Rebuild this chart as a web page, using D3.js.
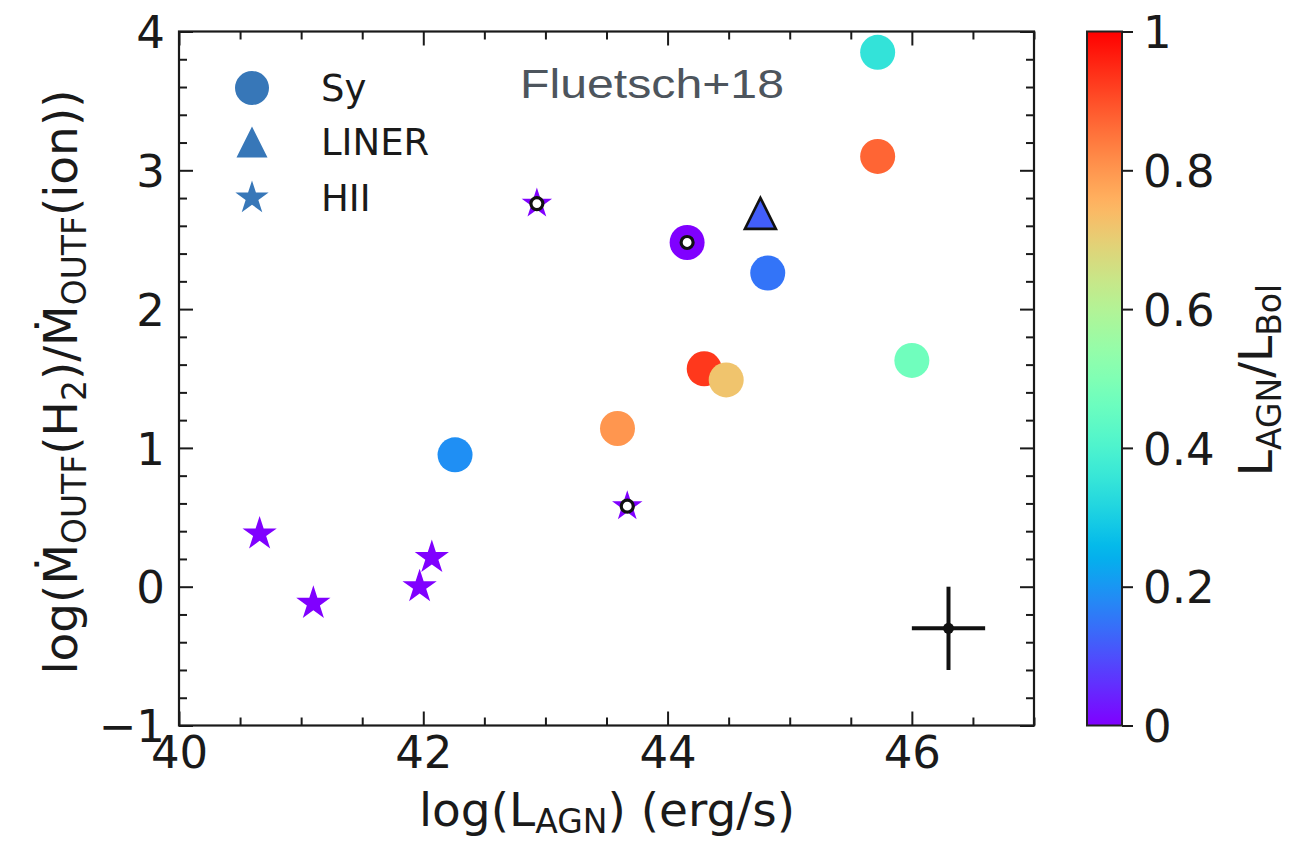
<!DOCTYPE html>
<html>
<head>
<meta charset="utf-8">
<script src="https://cdn.jsdelivr.net/npm/d3@7"></script>
<style>
  html, body { margin: 0; padding: 0; background: #fff; }
  svg { display: block; }
  text { font-family: "DejaVu Sans", sans-serif; fill: #1a1a1a; }
</style>
</head>
<body>
<svg id="chart" width="1299" height="843"></svg>
<script>
// ---------- data ----------
// Sy (circles)
const syX    = [42.26, 43.59, 44.30, 44.48, 44.82, 44.16, 45.72, 45.72, 46.00];
const syY    = [0.95, 1.14, 1.57, 1.49, 2.26, 2.48, 3.85, 3.10, 1.63];
const syFrac = [0.19, 0.80, 0.93, 0.72, 0.15, 0.00, 0.35, 0.87, 0.47];
const syOpen = [0, 0, 0, 0, 0, 1, 0, 0, 0];
// LINER (triangles)
const linerX    = [44.76];
const linerY    = [2.69];
const linerFrac = [0.12];
// HII (stars)
const hiiX    = [40.66, 41.10, 41.97, 42.07, 42.93, 43.67];
const hiiY    = [0.38, -0.12, 0.00, 0.21, 2.76, 0.58];
const hiiFrac = [0, 0, 0, 0, 0, 0];
const hiiOpen = [0, 0, 0, 0, 1, 1];
// typical error bar
const errX = [46.3], errY = [-0.3], errDX = [0.3], errDY = [0.3];
// axes
const xDomain = [40, 47], yDomain = [-1, 4];
const xMajor = [40, 42, 44, 46];
const yMajor = [-1, 0, 1, 2, 3, 4];
const cbTicks = [0, 0.2, 0.4, 0.6, 0.8, 1];
const legendLabels = ["Sy", "LINER", "HII"];
const annotation = "Fluetsch+18";

// ---------- setup ----------
const svg = d3.select("#chart");
const L = 179, R = 1034, T = 31.5, B = 725.5;
const x = d3.scaleLinear().domain(xDomain).range([L, R]);
const y = d3.scaleLinear().domain(yDomain).range([B, T]);

function rainbow(t) {
  const r = Math.min(1, Math.abs(2 * t - 0.5));
  const g = Math.sin(Math.PI * t);
  const b = Math.cos(Math.PI * t / 2);
  return d3.rgb(r * 255, g * 255, b * 255).formatHex();
}
function starPath(r) {
  const ri = r * 0.381966;
  const pts = [];
  for (let i = 0; i < 10; i++) {
    const a = -Math.PI / 2 + i * Math.PI / 5;
    const rr = i % 2 === 0 ? r : ri;
    pts.push([rr * Math.cos(a), rr * Math.sin(a)]);
  }
  return "M" + pts.map(p => p[0].toFixed(2) + "," + p[1].toFixed(2)).join("L") + "Z";
}
function triPath(r) {
  return `M0,${-r}L${r},${r}L${-r},${r}Z`;
}

// ---------- axes (ticks inward on all sides) ----------
const xMinor = d3.range(40, 47.001, 0.5).filter(v => !xMajor.includes(v));
const yMinor = d3.range(-1, 4.001, 0.2).map(v => +v.toFixed(1)).filter(v => !yMajor.includes(v));
const fmt = d => d3.format("d")(d);

const gAx = svg.append("g");
function styleAxis(g) {
  g.select(".domain").remove();
  g.selectAll(".tick line").attr("stroke", "#1a1a1a").attr("stroke-width", 2);
  g.selectAll(".tick text").attr("font-size", 45).attr("fill", "#1a1a1a");
}
gAx.append("g").attr("transform", `translate(0,${B})`)
  .call(d3.axisBottom(x).tickValues(xMajor).tickSize(-14).tickPadding(11).tickFormat(fmt)).call(styleAxis);
gAx.append("g").attr("transform", `translate(0,${B})`)
  .call(d3.axisBottom(x).tickValues(xMinor).tickSize(-8).tickFormat("")).call(styleAxis);
gAx.append("g").attr("transform", `translate(0,${T})`)
  .call(d3.axisTop(x).tickValues(xMajor).tickSize(-14).tickFormat("")).call(styleAxis);
gAx.append("g").attr("transform", `translate(0,${T})`)
  .call(d3.axisTop(x).tickValues(xMinor).tickSize(-8).tickFormat("")).call(styleAxis);
const yl = gAx.append("g").attr("transform", `translate(${L},0)`)
  .call(d3.axisLeft(y).tickValues(yMajor).tickSize(-14).tickPadding(14).tickFormat(fmt)).call(styleAxis);
yl.selectAll(".tick text").attr("dy", "0.36em");
gAx.append("g").attr("transform", `translate(${L},0)`)
  .call(d3.axisLeft(y).tickValues(yMinor).tickSize(-8).tickFormat("")).call(styleAxis);
gAx.append("g").attr("transform", `translate(${R},0)`)
  .call(d3.axisRight(y).tickValues(yMajor).tickSize(-14).tickFormat("")).call(styleAxis);
gAx.append("g").attr("transform", `translate(${R},0)`)
  .call(d3.axisRight(y).tickValues(yMinor).tickSize(-8).tickFormat("")).call(styleAxis);

svg.append("rect").attr("x", L).attr("y", T).attr("width", R - L).attr("height", B - T)
  .attr("fill", "none").attr("stroke", "#1a1a1a").attr("stroke-width", 2.2);

// ---------- axis labels ----------
const xl = svg.append("text").attr("x", 607).attr("y", 826).attr("text-anchor", "middle").attr("font-size", 47);
xl.append("tspan").text("log(L");
xl.append("tspan").attr("font-size", 33).attr("dy", 7).text("AGN");
xl.append("tspan").attr("dy", -7).text(") (erg/s)");

const ylab = svg.append("text").attr("transform", "translate(77,382) rotate(-90)")
  .attr("text-anchor", "middle").attr("font-size", 47);
ylab.append("tspan").text("log(\u1E40");
ylab.append("tspan").attr("font-size", 33).attr("dy", 9).text("OUTF");
ylab.append("tspan").attr("dy", -9).text("(H");
ylab.append("tspan").attr("font-size", 33).attr("dy", 9).text("2");
ylab.append("tspan").attr("dy", -9).text(")/\u1E40");
ylab.append("tspan").attr("font-size", 33).attr("dy", 9).text("OUTF");
ylab.append("tspan").attr("dy", -9).text("(ion))");

// ---------- error bar ----------
const gErr = svg.append("g");
errX.forEach((ex, i) => {
  gErr.append("line").attr("x1", x(ex - errDX[i])).attr("x2", x(ex + errDX[i]))
    .attr("y1", y(errY[i])).attr("y2", y(errY[i])).attr("stroke", "#111").attr("stroke-width", 4);
  gErr.append("line").attr("x1", x(ex)).attr("x2", x(ex))
    .attr("y1", y(errY[i] - errDY[i])).attr("y2", y(errY[i] + errDY[i])).attr("stroke", "#111").attr("stroke-width", 4);
  gErr.append("circle").attr("cx", x(ex)).attr("cy", y(errY[i])).attr("r", 5.5).attr("fill", "#111");
});

// ---------- points ----------
const gPts = svg.append("g");
function openCenter(cx, cy) {
  gPts.append("circle").attr("cx", cx).attr("cy", cy).attr("r", 6)
    .attr("fill", "#fff").attr("stroke", "#111").attr("stroke-width", 3.2);
}
hiiX.forEach((v, i) => {
  gPts.append("path").attr("d", starPath(hiiOpen[i] ? 16 : 18))
    .attr("transform", `translate(${x(v)},${y(hiiY[i])})`).attr("fill", rainbow(hiiFrac[i]));
  if (hiiOpen[i]) openCenter(x(v), y(hiiY[i]));
});
syX.forEach((v, i) => {
  gPts.append("circle").attr("cx", x(v)).attr("cy", y(syY[i])).attr("r", 17.5)
    .attr("fill", rainbow(syFrac[i]));
  if (syOpen[i]) openCenter(x(v), y(syY[i]));
});
linerX.forEach((v, i) => {
  gPts.append("path").attr("d", triPath(15.5))
    .attr("transform", `translate(${x(v)},${y(linerY[i])})`)
    .attr("fill", rainbow(linerFrac[i])).attr("stroke", "#111").attr("stroke-width", 2.6)
    .attr("stroke-linejoin", "miter");
});

// ---------- legend ----------
const legCol = "#3777b8";
const gLeg = svg.append("g");
const legY = [88, 142, 198];
gLeg.append("circle").attr("cx", 252).attr("cy", legY[0]).attr("r", 17).attr("fill", legCol);
gLeg.append("path").attr("d", triPath(15.5)).attr("transform", `translate(252,${legY[1]})`).attr("fill", legCol);
gLeg.append("path").attr("d", starPath(17.5)).attr("transform", `translate(252,${legY[2]})`).attr("fill", legCol);
legendLabels.forEach((t, i) => {
  gLeg.append("text").attr("x", 321).attr("y", legY[i] + 13).attr("font-size", 37).text(t);
});

// annotation
svg.append("text").attr("x", 520).attr("y", 98).attr("font-size", 41)
  .style("font-family", "'Liberation Sans', Arial, sans-serif").style("fill", "#4d555d")
  .attr("textLength", 264).attr("lengthAdjust", "spacingAndGlyphs").text(annotation);

// ---------- colorbar ----------
const cbL = 1087, cbR = 1122;
const cb = d3.scaleLinear().domain([0, 1]).range([B, T]);
const defs = svg.append("defs");
const grad = defs.append("linearGradient").attr("id", "cbgrad")
  .attr("x1", 0).attr("y1", 1).attr("x2", 0).attr("y2", 0);
d3.range(0, 1.0001, 0.02).forEach(t => {
  grad.append("stop").attr("offset", t).attr("stop-color", rainbow(t));
});
svg.append("rect").attr("x", cbL).attr("y", T).attr("width", cbR - cbL).attr("height", B - T)
  .attr("fill", "url(#cbgrad)").attr("stroke", "#222").attr("stroke-width", 2);
const gcb = svg.append("g").attr("transform", `translate(${cbR},0)`)
  .call(d3.axisRight(cb).tickValues(cbTicks).tickSize(11).tickPadding(10)
    .tickFormat(d => (d === 0 || d === 1) ? String(d) : d3.format(".1f")(d)));
styleAxis(gcb);
gcb.selectAll(".tick text").attr("dy", "0.36em");

const cbl = svg.append("text").attr("transform", "translate(1272,380) rotate(-90)")
  .attr("text-anchor", "middle").attr("font-size", 47);
cbl.append("tspan").text("L");
cbl.append("tspan").attr("font-size", 33).attr("dy", 9).text("AGN");
cbl.append("tspan").attr("dy", -9).text("/L");
cbl.append("tspan").attr("font-size", 33).attr("dy", 9).text("Bol");
</script>
</body>
</html>
